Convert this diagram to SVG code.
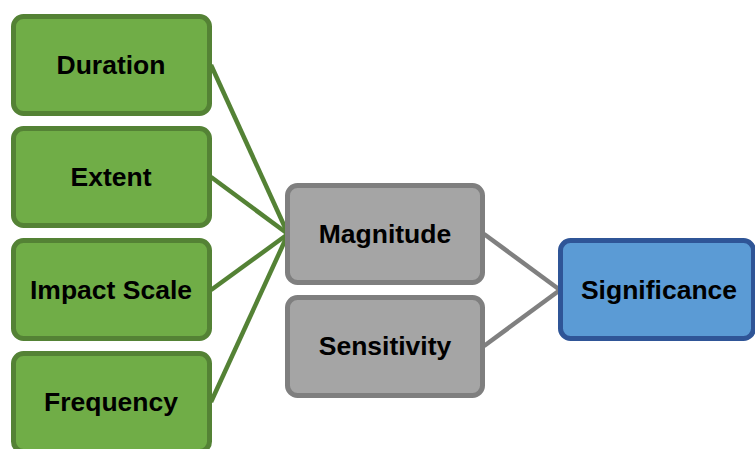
<svg xmlns="http://www.w3.org/2000/svg" width="755" height="449" viewBox="0 0 755 449">
<style>
.g rect{fill:#70AD47;stroke:#548235;stroke-width:5}
.gr rect{fill:#A5A5A5;stroke:#7F7F7F;stroke-width:5}
.b rect{fill:#5B9BD5;stroke:#2F5597;stroke-width:5}
text{font-family:"Liberation Sans",Arial,sans-serif;font-weight:bold;font-size:26.5px;fill:#000;text-anchor:middle}
.cg line{stroke:#548235;stroke-width:4.5}
.cgr line{stroke:#808080;stroke-width:4.5}
</style>
<rect width="755" height="449" fill="#fff"/>
<g id="connectors">
<g class="cg">
<line x1="211" y1="65" x2="288" y2="234"/>
<line x1="211" y1="177" x2="288" y2="234"/>
<line x1="211" y1="290" x2="288" y2="234"/>
<line x1="211" y1="402" x2="288" y2="234"/>
</g>
<g class="cgr">
<line x1="484" y1="234" x2="560" y2="290"/>
<line x1="484" y1="346" x2="560" y2="290"/>
</g>
</g>
<g id="duration" class="g"><rect x="13.5" y="16.5" width="196" height="97" rx="10"/><text x="111" y="73.5">Duration</text></g>
<g id="extent" class="g"><rect x="13.5" y="128.5" width="196" height="97" rx="10"/><text x="111" y="185.5">Extent</text></g>
<g id="impact-scale" class="g"><rect x="13.5" y="240.5" width="196" height="98" rx="10"/><text x="111" y="298.5">Impact Scale</text></g>
<g id="frequency" class="g"><rect x="13.5" y="353.5" width="196" height="98" rx="10"/><text x="111" y="410.5">Frequency</text></g>
<g id="magnitude" class="gr"><rect x="287.5" y="185.5" width="195" height="97" rx="10"/><text x="385" y="242.5">Magnitude</text></g>
<g id="sensitivity" class="gr"><rect x="287.5" y="297.5" width="195" height="98" rx="10"/><text x="385" y="354.5">Sensitivity</text></g>
<g id="significance" class="b"><rect x="560.5" y="240.5" width="193" height="98" rx="10"/><text x="659" y="298.5">Significance</text></g>
</svg>
